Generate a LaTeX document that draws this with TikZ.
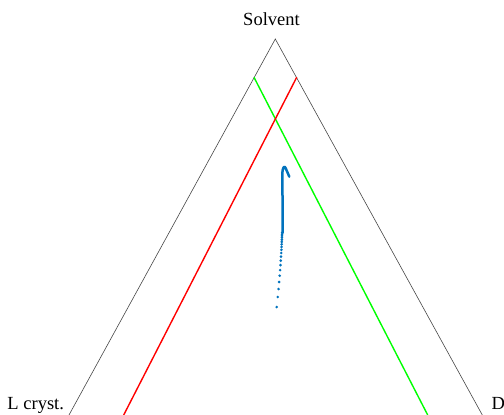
\documentclass[tikz,border=0pt]{standalone}
\usepackage{fontspec}
\setmainfont{Liberation Serif}
\definecolor{bleutraj}{RGB}{0,114,189}
\definecolor{cote}{RGB}{70,70,70}
\begin{document}
\begin{tikzpicture}[x=1pt, y=-1pt,
    cote/.style={draw=cote, line width=0.6pt},
    etiquette/.style={font=\fontsize{18.5}{20}\selectfont, inner sep=0pt},
    droite/.style={line width=1.4pt},
    traj/.style={bleutraj}]

  \useasboundingbox (0,0) rectangle (504,415);
  \clip (0,0) rectangle (504,415);

  % Sommets du triangle
  \coordinate (S) at (275.3, 39);
  \coordinate (L) at (69, 415);
  \coordinate (D) at (482.3, 415);
  \draw[cote] (L) -- (S) -- (D);

  % Etiquettes
  \node[etiquette, anchor=base] (solvent) at (271.5, 25) {Solvent};
  \node[etiquette, anchor=base west] (lcryst) at (7.3, 409) {L cryst.};
  \node[etiquette, anchor=base west] (dlab) at (491.5, 409) {D};

  % Droites rouge et verte
  \coordinate (g1) at (254, 77.3);
  \coordinate (g2) at (427.7, 415);
  \coordinate (r1) at (296.7, 77.3);
  \coordinate (r2) at (123.7, 415);
  \draw[droite, green] (g1) -- (g2);
  \draw[droite, red] (r1) -- (r2);

  % Trajectoire (points puis trait)
  \foreach \y in {307,297,289,282,275.7,270.1,265.1,260.6,256.6,253,249.8,246.9,244.3,241.9,239.7,237.7,235.9,234.2,232.6} {
    \fill[traj] ({282.7-6*((\y-200)/107)^2}, \y) circle (1.45pt);
  }
  \coordinate (t1) at (282.5, 233);
  \coordinate (t2) at (282.4, 174);
  \coordinate (t3) at (289.3, 176.7);
  \draw[traj, line width=2.5pt, line cap=round, line join=round]
    (t1) .. controls (282.8, 215) and (282.4, 195) .. (t2)
    .. controls (282.4, 167) and (284.5, 165.5) .. (285.5, 167.8)
    -- (t3);

\end{tikzpicture}
\end{document}
